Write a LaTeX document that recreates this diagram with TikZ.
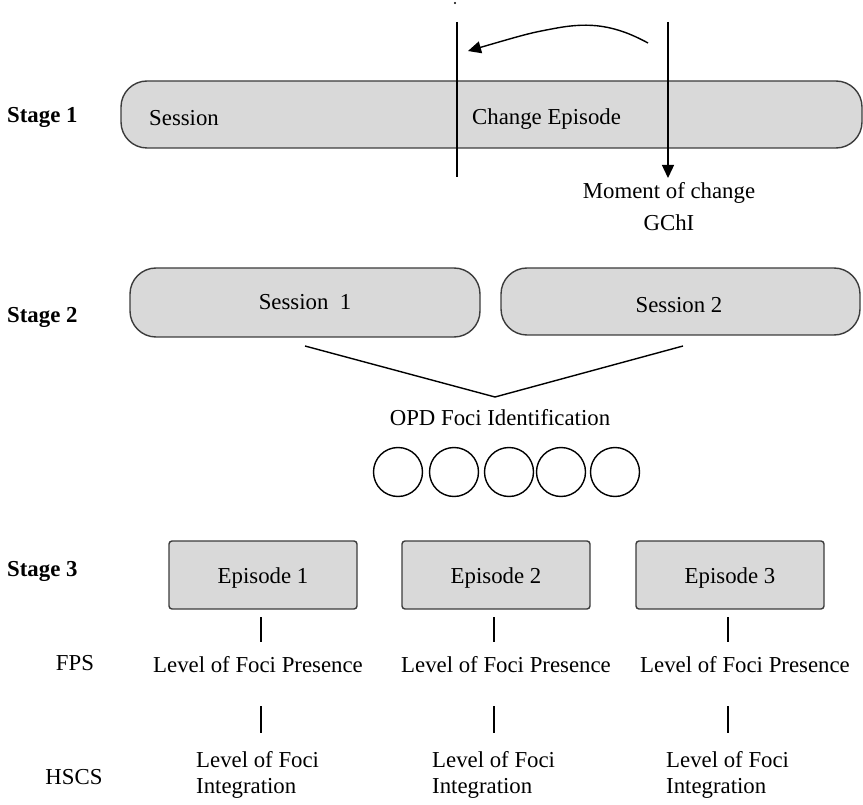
\documentclass[tikz,border=0pt]{standalone}
\usepackage{fontspec}
\setmainfont{Liberation Serif}
\usetikzlibrary{arrows.meta}
\definecolor{boxfill}{RGB}{217,217,217}
\definecolor{boxline}{RGB}{60,60,60}
\begin{document}
\begin{tikzpicture}[x=1pt,y=-1pt,
  txt/.style={font=\fontsize{22.8}{27}\selectfont, inner sep=0pt},
  stagelbl/.style={font=\fontsize{22.8}{27}\selectfont\bfseries, inner sep=0pt, anchor=west},
  pill/.style={draw=boxline, line width=1.4pt, fill=boxfill, rounded corners=26pt},
  epbox/.style={draw=boxline, line width=1.4pt, fill=boxfill, rounded corners=3pt},
  ln/.style={line width=1.4pt, black},
  circ/.style={circle, draw=black, line width=1.4pt, minimum size=49pt, inner sep=0pt},
  arr/.style={ln, -{Triangle[length=13pt,width=12pt]}}
]
\useasboundingbox (0,0) rectangle (863,805);

% Stage 1
\node[stagelbl] (s1) at (7,117) {Stage 1};
\draw[pill] (121,81) rectangle (862,148);
\node[txt, anchor=west] (sess) at (149,118) {Session};
\node[txt, anchor=west] (chep) at (472,119) {Change Episode};
\fill (455,3) circle (1.1pt);
\coordinate (lt) at (457,22);
\coordinate (lb) at (457,177);
\draw[ln] (lt) -- (lb);
\coordinate (rt) at (668,22);
\node[txt] (moment) at (669,193) {Moment of change};
\node[txt] (gchi) at (669,223) {GChI};
\draw[arr] (rt) -- (668,178);
\coordinate (cs) at (648,43);
\coordinate (ce) at (468,51);
\draw[arr] (cs) .. controls (615,25) and (590,22) .. (557,28) .. controls (530,33) .. (ce);

% Stage 2
\node[stagelbl] (s2) at (7,317) {Stage 2};
\draw[pill] (130,268) rectangle (480,337);
\draw[pill] (501,268) rectangle (860,335);
\node[txt] (se1) at (305,302) {Session\ \ 1};
\node[txt] (se2) at (679,305) {Session 2};
\coordinate (l1) at (305,346);
\coordinate (l2) at (683,346);
\coordinate (apex) at (495,397);
\draw[ln] (l1) -- (apex) -- (l2);
\node[txt] (opd) at (500,418) {OPD Foci Identification};
\foreach \i/\x in {1/398,2/454,3/509,4/561,5/615}
  \node[circ] (c\i) at (\x,472) {};

% Stage 3
\node[stagelbl] (s3) at (7,571) {Stage 3};
\node[txt] (fps) at (75,663) {FPS};
\node[txt] (hscs) at (74,777) {HSCS};
\foreach \k/\bx/\lx/\tx/\ix in {1/169/261/258/196, 2/402/494/506/432, 3/636/728/745/666}{
  \draw[epbox] (\bx,541) rectangle ++(188,68);
  \node[txt] (ep\k) at (\bx+94,578) {Episode \k};
  \coordinate (a\k) at (\lx,617);
  \coordinate (b\k) at (\lx,642);
  \draw[ln] (a\k) -- (b\k);
  \node[txt] (pres\k) at (\tx,665) {Level of Foci Presence};
  \coordinate (c\k) at (\lx,706);
  \coordinate (d\k) at (\lx,733);
  \draw[ln] (c\k) -- (d\k);
  \node[txt, anchor=west] (int\k) at (\ix,760) {Level of Foci};
  \node[txt, anchor=west] (intb\k) at (\ix,788) {Integration};
}
\end{tikzpicture}
\end{document}
